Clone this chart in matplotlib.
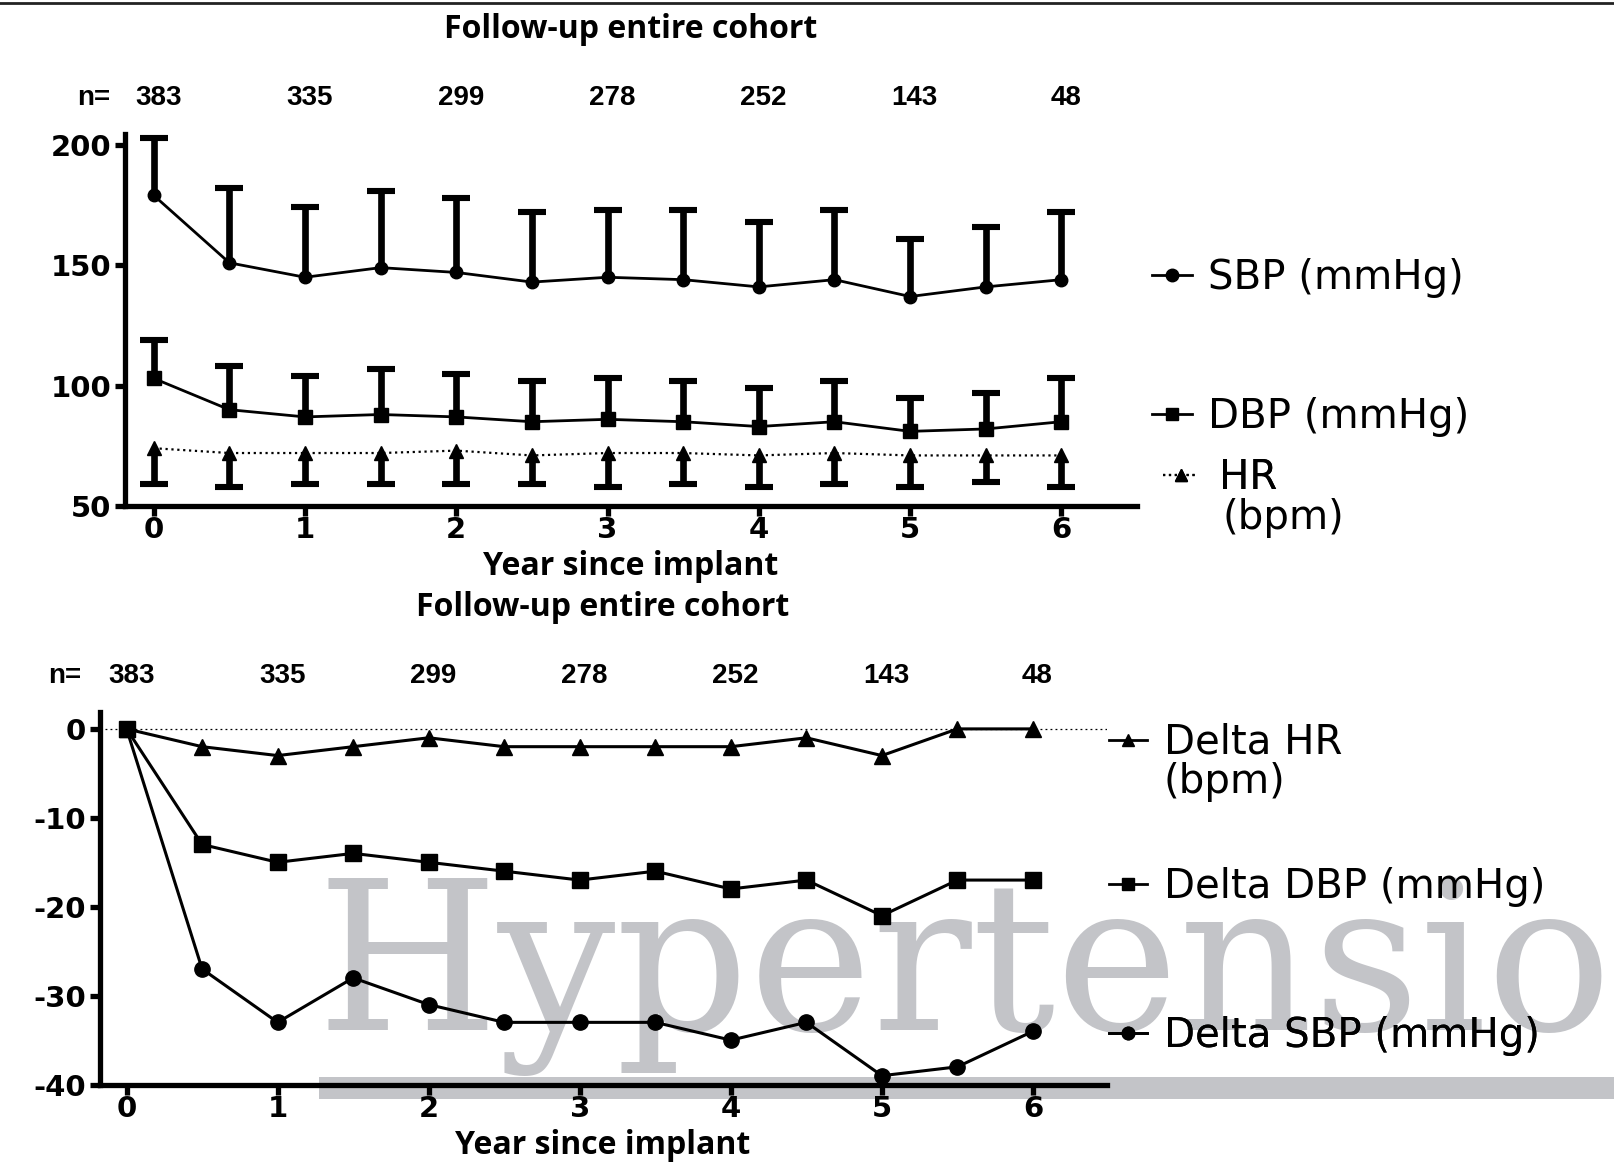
import matplotlib.pyplot as plt
from matplotlib.lines import Line2D
from matplotlib.patches import Rectangle

plt.rcParams['axes.unicode_minus'] = False

# follow-up visits (years since implant)
years = [0, 0.5, 1, 1.5, 2, 2.5, 3, 3.5, 4, 4.5, 5, 5.5, 6]

# absolute values, mean and SD
sbp_mean = [179, 151, 145, 149, 147, 143, 145, 144, 141, 144, 137, 141, 144]
sbp_sd = [24, 31, 29, 32, 31, 29, 28, 29, 27, 29, 24, 25, 28]
dbp_mean = [103, 90, 87, 88, 87, 85, 86, 85, 83, 85, 81, 82, 85]
dbp_sd = [16, 18, 17, 19, 18, 17, 17, 17, 16, 17, 14, 15, 18]
hr_mean = [74, 72, 72, 72, 73, 71, 72, 72, 71, 72, 71, 71, 71]
hr_sd = [15, 14, 13, 13, 14, 12, 14, 13, 13, 13, 13, 11, 13]

# change from baseline
d_hr = [0, -2, -3, -2, -1, -2, -2, -2, -2, -1, -3, 0, 0]
d_dbp = [0, -13, -15, -14, -15, -16, -17, -16, -18, -17, -21, -17, -17]
d_sbp = [0, -27, -33, -28, -31, -33, -33, -33, -35, -33, -39, -38, -34]

# patients at each yearly visit
n_years = [0, 1, 2, 3, 4, 5, 6]
n_counts = [383, 335, 299, 278, 252, 143, 48]

W, H = 1614, 1167
fig = plt.figure(figsize=(W / 100, H / 100), dpi=100)

TICK_FONT = 'DejaVu Sans'
HEAD_FONT = 'Open Sans'
KEY_FONT = 'DejaVu Sans'
N_FONT = 'Liberation Sans'
GREY = '#c3c4c8'
KEY_SIZE = 29


def box(left, right, top, bottom):
    return [left / W, 1 - bottom / H, (right - left) / W, (bottom - top) / H]


def style_axes(ax):
    ax.set_facecolor('none')
    for s in ['top', 'right']:
        ax.spines[s].set_visible(False)
    for s in ['left', 'bottom']:
        ax.spines[s].set_linewidth(3.8)
    ax.tick_params(axis='both', width=3.8, length=7, direction='out',
                   labelsize=21, pad=3)
    ax.tick_params(axis='x', pad=0.5)
    for lab in ax.get_xticklabels() + ax.get_yticklabels():
        lab.set_fontweight('bold')
        lab.set_fontfamily(TICK_FONT)


def add_key(ax, handle, label, x, y, hl, pad):
    leg = ax.legend([handle], [label], loc='center left', bbox_to_anchor=(x, y),
                    frameon=False, borderpad=0, borderaxespad=0,
                    handlelength=hl, handletextpad=pad,
                    prop={'family': KEY_FONT, 'size': KEY_SIZE})
    ax.add_artist(leg)


def add_counts(ax, y, x_lab):
    tr = ax.get_xaxis_transform()
    ax.text(x_lab, y, 'n=', transform=tr, ha='center', va='center',
            fontsize=20, fontweight='bold', family=N_FONT)
    for yr, n in zip(n_years, n_counts):
        ax.text(yr + 0.03, y, str(n), transform=tr, ha='center', va='center',
                fontsize=20, fontweight='bold', family=N_FONT)


# watermark behind both panels
fig.text(316 / W, 1 - 1030 / H, 'Hypertension', ha='left', va='baseline',
         fontsize=150, family='DejaVu Serif', color=GREY, zorder=-5)
fig.add_artist(Rectangle((319 / W, 1 - 1099 / H), 1, 22 / H,
                         transform=fig.transFigure, color=GREY, lw=0, zorder=-5))
fig.add_artist(Line2D([0, 1], [1 - 3 / H] * 2, transform=fig.transFigure,
                      color='#222222', lw=2))

# ---- top panel: absolute values with SD ----
ax1 = fig.add_axes(box(125, 1137, 134, 506))

bar_kw = dict(color='k', elinewidth=4.8, capsize=10, capthick=4.4)
eb = ax1.errorbar(years, sbp_mean, yerr=[[0] * len(years), sbp_sd],
                  lw=2, marker='o', ms=9, **bar_kw)
eb[1][0].set_visible(False)
eb = ax1.errorbar(years, dbp_mean, yerr=[[0] * len(years), dbp_sd],
                  lw=2, marker='s', ms=10, **bar_kw)
eb[1][0].set_visible(False)
eb = ax1.errorbar(years, hr_mean, yerr=[hr_sd, [0] * len(years)],
                  lw=1.6, ls=':', marker='^', ms=10, **bar_kw)
eb[1][1].set_visible(False)

ax1.set_xlim(-0.19, 6.5)
ax1.set_ylim(50, 204.5)
ax1.set_xticks(range(7))
ax1.set_yticks([50, 100, 150, 200])
style_axes(ax1)
ax1.set_xlabel('Year since implant', fontsize=23, fontweight='bold', family=HEAD_FONT)
ax1.xaxis.set_label_coords(0.5, -0.118)
add_counts(ax1, 1.097, -0.40)

add_key(ax1, Line2D([], [], color='k', lw=2, marker='o', ms=9),
        'SBP (mmHg)', 1.0148, 0.613, 1.0, 0.4)
add_key(ax1, Line2D([], [], color='k', lw=2, marker='s', ms=9),
        'DBP (mmHg)', 1.0148, 0.239, 1.0, 0.4)
add_key(ax1, Line2D([], [], color='k', lw=1.6, ls=':', marker='^', ms=8),
        'HR', 1.0257, 0.075, 0.88, 0.5)
ax1.text(1.084, -0.032, '(bpm)', transform=ax1.transAxes, ha='left', va='center',
         fontsize=KEY_SIZE, family=KEY_FONT)

# ---- bottom panel: change from baseline ----
ax2 = fig.add_axes(box(100, 1107, 712, 1084.6))

ax2.axhline(0, color='k', lw=0.9, ls=(0, (1.5, 2.5)), zorder=1)
ax2.plot(years, d_hr, color='k', lw=2.2, marker='^', ms=11)
ax2.plot(years, d_sbp, color='k', lw=2.2, marker='o', ms=11)
ax2.plot(years, d_dbp, color='k', lw=2.2, marker='s', ms=12)

ax2.set_xlim(-0.176, 6.49)
ax2.set_ylim(-40, 1.9)
ax2.set_xticks(range(7))
ax2.set_yticks([0, -10, -20, -30, -40])
style_axes(ax2)
ax2.set_xlabel('Year since implant', fontsize=23, fontweight='bold', family=HEAD_FONT)
ax2.xaxis.set_label_coords(0.4995, -0.118)
add_counts(ax2, 1.0966, -0.41)

add_key(ax2, Line2D([], [], color='k', lw=2, marker='^', ms=9),
        'Delta HR', 1.002, 0.917, 0.95, 0.42)
ax2.text(1.0565, 0.812, '(bpm)', transform=ax2.transAxes, ha='left', va='center',
         fontsize=KEY_SIZE, family=KEY_FONT)
add_key(ax2, Line2D([], [], color='k', lw=2, marker='s', ms=9),
        'Delta DBP (mmHg)', 1.002, 0.530, 0.95, 0.42)
add_key(ax2, Line2D([], [], color='k', lw=2, marker='o', ms=9),
        'Delta SBP (mmHg)', 1.002, 0.130, 0.95, 0.42)

fig.text(631 / W, 1 - 29 / H, 'Follow-up entire cohort', ha='center', va='center',
         fontsize=23, fontweight='bold', family=HEAD_FONT)
fig.text(603 / W, 1 - 607 / H, 'Follow-up entire cohort', ha='center', va='center',
         fontsize=23, fontweight='bold', family=HEAD_FONT)

fig.savefig('out.png', dpi=100)
